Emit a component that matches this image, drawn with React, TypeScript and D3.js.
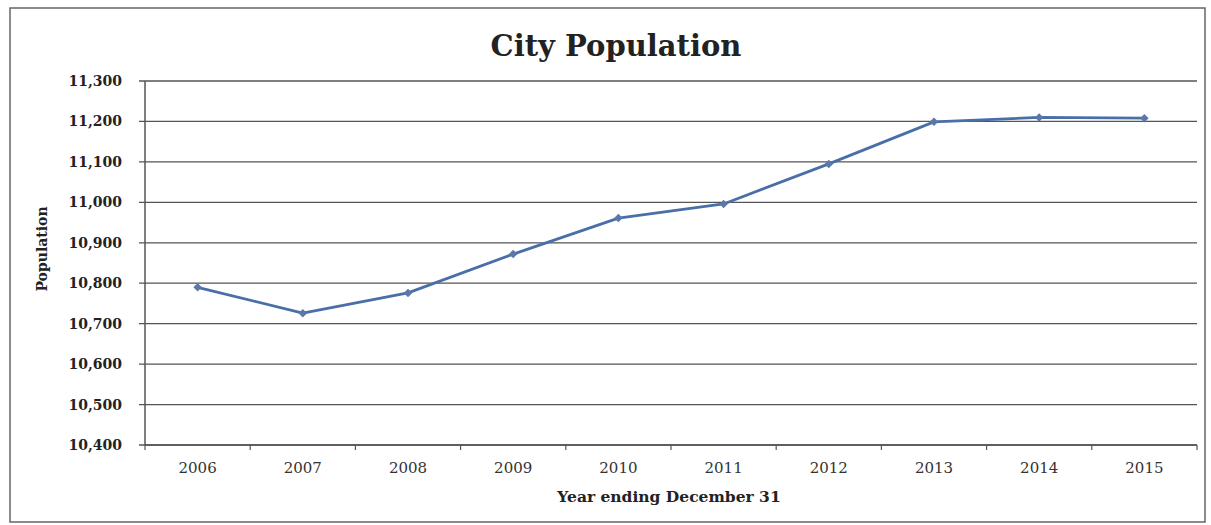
import React from "react";
import * as d3 from "d3";

const years = ["2006", "2007", "2008", "2009", "2010", "2011", "2012", "2013", "2014", "2015"];
const population = [10790, 10726, 10776, 10872, 10961, 10996, 11095, 11199, 11210, 11208];
const yTicks = [10400, 10500, 10600, 10700, 10800, 10900, 11000, 11100, 11200, 11300];
const title = "City Population";
const xTitle = "Year ending December 31";
const yTitle = "Population";

export default function App() {
  const W = 1211, H = 525;
  const left = 145, right = 1197, top = 81, bottom = 445;
  const x = d3.scaleBand<string>().domain(years).range([left, right]).padding(0);
  const y = d3.scaleLinear().domain([10400, 11300]).range([bottom, top]);
  const fmt = d3.format(",");
  const line = d3.line<number>()
    .x((_, i) => (x(years[i]) as number) + x.bandwidth() / 2)
    .y((d) => y(d));
  const font = "'DejaVu Serif', 'Liberation Serif', serif";
  const boundaries = years.map((yr) => x(yr) as number).concat([right]);
  return (
    <svg width={W} height={H} style={{ position: "absolute", left: 0, top: 0, background: "#fff" }}>
      <rect x={10} y={8} width={1195} height={514} fill="#fff" stroke="#666" strokeWidth={1.5} />
      <text x={616} y={56} textAnchor="middle" fontFamily={font} fontWeight="bold" fontSize={29} fill="#222">{title}</text>
      {yTicks.map((t) => (
        <g key={t}>
          <line x1={left - 6} x2={right} y1={y(t)} y2={y(t)} stroke="#555" strokeWidth={1.3} />
          <text x={122} y={y(t) + 5} textAnchor="end" fontFamily={font} fontWeight="bold" fontSize={14} fill="#222">{fmt(t)}</text>
        </g>
      ))}
      <line x1={left} x2={left} y1={top} y2={bottom} stroke="#555" strokeWidth={1.5} />
      <line x1={left} x2={right} y1={bottom} y2={bottom} stroke="#555" strokeWidth={1.5} />
      {boundaries.map((b, i) => (
        <line key={i} x1={b} x2={b} y1={bottom} y2={bottom + 5} stroke="#555" strokeWidth={1.2} />
      ))}
      {years.map((yr) => (
        <text key={yr} x={(x(yr) as number) + x.bandwidth() / 2} y={473} textAnchor="middle" fontFamily={font} fontSize={15} fill="#333">{yr}</text>
      ))}
      <text x={669} y={502} textAnchor="middle" fontFamily={font} fontWeight="bold" fontSize={15.5} fill="#222">{xTitle}</text>
      <text transform={`translate(47,249) rotate(-90)`} textAnchor="middle" fontFamily={font} fontWeight="bold" fontSize={14} fill="#222">{yTitle}</text>
      <path d={line(population) || ""} fill="none" stroke="#4a6fa8" strokeWidth={2.8} strokeLinejoin="round" />
      {population.map((v, i) => {
        const cx = (x(years[i]) as number) + x.bandwidth() / 2;
        const cy = y(v);
        return <rect key={i} x={cx - 3} y={cy - 3} width={6} height={6} fill="#5a78a8" transform={`rotate(45,${cx},${cy})`} />;
      })}
    </svg>
  );
}
